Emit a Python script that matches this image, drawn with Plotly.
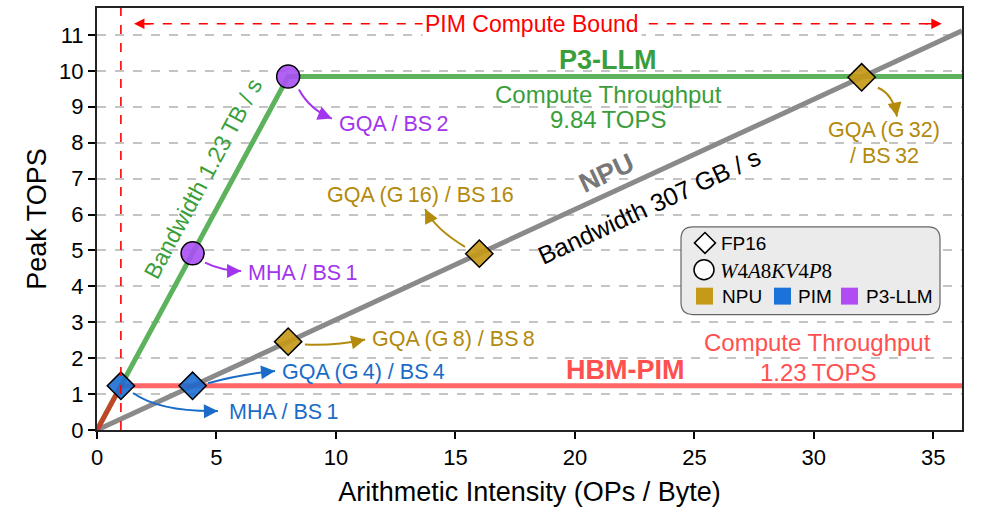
import math
import plotly.graph_objects as go

# ---------------- data ----------------
x_max = 36.2
y_max = 11.75
npu_bandwidth = 0.307      # TOPS per (OP/Byte)  (307 GB/s)
p3_bandwidth = 1.23        # 1.23 TB/s
p3_peak = 9.84             # TOPS
pim_bandwidth = 1.23
pim_peak = 1.23

pim_x = [1, 4]
pim_y = [1.23, 1.23]
npu_x = [8, 16, 32]
npu_y = [2.46, 4.91, 9.82]
p3_x = [4, 8]
p3_y = [4.92, 9.84]

x_ticks = [0, 5, 10, 15, 20, 25, 30, 35]
y_ticks = list(range(0, 12))

# ---------------- style ----------------
FONT = "Liberation Sans"
GREEN_LINE = "#5db35d"
GREEN_TXT = "#3a9e3a"
GRAY_LINE = "#8a8a8a"
RED_LINE = "rgba(255,0,0,0.6)"
RED_TXT = "#ff4f4f"
BLUE_FILL = "rgba(26,110,210,0.9)"
BLUE_TXT = "#1a6cc8"
GOLD_FILL = "rgba(196,152,20,0.9)"
GOLD_TXT = "#b38a0c"
PURPLE_FILL = "rgba(170,80,245,0.9)"
PURPLE_TXT = "#a334ee"

W, H = 996, 513
ML, MR, MT, MB = 97, 34, 6, 83
PW, PH = W - ML - MR, H - MT - MB
SX, SY = PW / x_max, PH / y_max


def pxx(p):
    return (p - ML) / PW


def pxy(p):
    return (H - MB - p) / PH


fig = go.Figure()

# rooflines
p3_ridge = p3_peak / p3_bandwidth
pim_ridge = pim_peak / pim_bandwidth
fig.add_trace(go.Scatter(x=[0, p3_ridge, x_max], y=[0, p3_peak, p3_peak], mode="lines",
                         line=dict(color=GREEN_LINE, width=5), showlegend=False, hoverinfo="skip"))
fig.add_trace(go.Scatter(x=[0, x_max], y=[0, npu_bandwidth * x_max], mode="lines",
                         line=dict(color=GRAY_LINE, width=5), showlegend=False, hoverinfo="skip"))
fig.add_trace(go.Scatter(x=[0, pim_ridge, x_max], y=[0, pim_peak, pim_peak], mode="lines",
                         line=dict(color=RED_LINE, width=5), showlegend=False, hoverinfo="skip"))

# points
fig.add_trace(go.Scatter(x=npu_x, y=npu_y, mode="markers",
                         marker=dict(symbol="diamond", size=21, color=GOLD_FILL,
                                     line=dict(color="black", width=1.5)),
                         showlegend=False, hoverinfo="skip"))
fig.add_trace(go.Scatter(x=pim_x, y=pim_y, mode="markers",
                         marker=dict(symbol="diamond", size=21, color=BLUE_FILL,
                                     line=dict(color="black", width=1.5)),
                         showlegend=False, hoverinfo="skip"))
fig.add_trace(go.Scatter(x=p3_x, y=p3_y, mode="markers",
                         marker=dict(symbol="circle", size=23, color=PURPLE_FILL,
                                     line=dict(color="black", width=1.5)),
                         showlegend=False, hoverinfo="skip"))

shapes = []
ann = []

# vertical dashed line at PIM ridge
shapes.append(dict(type="line", xref="x", yref="paper", x0=pim_ridge, x1=pim_ridge, y0=0, y1=1,
                   line=dict(color="red", width=1.6, dash="dash")))

# PIM compute bound arrow
yb = 11.31
shapes.append(dict(type="line", xref="x", yref="y", x0=2.0, x1=34.9, y0=yb, y1=yb,
                   line=dict(color="red", width=1.6, dash="dash")))
ann.append(dict(x=1.55, y=yb, xref="x", yref="y", ax=18, ay=0, text="", showarrow=True,
                arrowhead=2, arrowsize=1.3, arrowwidth=1.6, arrowcolor="red"))
ann.append(dict(x=35.35, y=yb, xref="x", yref="y", ax=-18, ay=0, text="", showarrow=True,
                arrowhead=2, arrowsize=1.3, arrowwidth=1.6, arrowcolor="red"))
ann.append(dict(x=18.2, y=yb, xref="x", yref="y", text="PIM Compute Bound", showarrow=False,
                font=dict(family=FONT, size=23, color="red"), bgcolor="white", borderpad=2))


def curved_arrow(start, ctrl, tip, color):
    shapes.append(dict(type="path", xref="x", yref="y",
                       path=f"M {start[0]},{start[1]} Q {ctrl[0]},{ctrl[1]} {tip[0]},{tip[1]}",
                       line=dict(color=color, width=2)))
    dx = (ctrl[0] - tip[0]) * SX
    dy = -(ctrl[1] - tip[1]) * SY
    n = math.hypot(dx, dy) or 1
    ann.append(dict(x=tip[0], y=tip[1], xref="x", yref="y", ax=dx / n * 9, ay=dy / n * 9,
                    text="", showarrow=True, arrowhead=2, arrowsize=1.4, arrowwidth=2,
                    arrowcolor=color))


def label(x, y, text, color, size=21.5, xanchor="left", bold=False, angle=0, family=FONT):
    if bold:
        text = f"<b>{text}</b>"
    ann.append(dict(x=x, y=y, xref="x", yref="y", text=text, showarrow=False, xanchor=xanchor,
                    yanchor="middle", textangle=angle, font=dict(family=family, size=size, color=color)))


T = "\u2009"
# PIM points
curved_arrow((1.51, 1.03), (2.64, 0.50), (5.06, 0.53), BLUE_TXT)
label(5.44, 0.50, f"MHA / BS{T}1", BLUE_TXT)
curved_arrow((4.65, 1.30), (5.98, 1.55), (7.45, 1.64), BLUE_TXT)
label(7.66, 1.61, f"GQA (G{T}4) / BS{T}4", BLUE_TXT)
# NPU points
curved_arrow((8.70, 2.38), (9.96, 2.34), (11.22, 2.52), GOLD_TXT)
label(11.42, 2.52, f"GQA (G{T}8) / BS{T}8", GOLD_TXT)
curved_arrow((15.40, 5.10), (14.15, 5.60), (13.73, 6.15), GOLD_TXT)
label(13.52, 6.55, f"GQA (G{T}16) / BS{T}16", GOLD_TXT, xanchor="center")
curved_arrow((32.68, 9.53), (33.31, 9.36), (33.48, 8.73), GOLD_TXT)
label(32.94, 8.34, f"GQA (G{T}32)", GOLD_TXT, xanchor="center")
label(32.94, 7.62, f"/ BS{T}32", GOLD_TXT, xanchor="center")
# P3-LLM points
curved_arrow((4.52, 4.66), (5.23, 4.43), (6.03, 4.43), PURPLE_TXT)
label(6.24, 4.38, f"MHA / BS{T}1", PURPLE_TXT)
curved_arrow((8.45, 9.48), (8.91, 8.92), (9.83, 8.67), PURPLE_TXT)
label(10.04, 8.51, f"GQA / BS{T}2", PURPLE_TXT)

# roofline labels
label(21.4, 10.3, "P3-LLM", GREEN_TXT, size=27, xanchor="center", bold=True)
label(21.4, 9.34, "Compute Throughput", GREEN_TXT, size=24, xanchor="center")
label(21.4, 8.65, f"9.84{T}TOPS", GREEN_TXT, size=24, xanchor="center")
ang_p3 = -math.degrees(math.atan(p3_bandwidth * SY / SX))
label(4.44, 6.98, f"Bandwidth 1.23{T}TB / s", GREEN_TXT, size=23, xanchor="center", angle=ang_p3)
ang_npu = -math.degrees(math.atan(npu_bandwidth * SY / SX))
label(21.34, 7.15, "NPU", "#777777", size=27, xanchor="center", bold=True, angle=ang_npu)
label(23.1, 6.25, f"Bandwidth 307 GB / s", "black", size=25, xanchor="center", angle=ang_npu)
label(22.1, 1.66, "HBM-PIM", RED_TXT, size=27, xanchor="center", bold=True)
label(30.17, 2.44, "Compute Throughput", RED_TXT, size=24, xanchor="center")
label(30.17, 1.61, f"1.23{T}TOPS", RED_TXT, size=24, xanchor="center")

# ---------------- custom legend box ----------------
bx0, bx1, by0, by1 = pxx(681), pxx(940), pxy(314), pxy(226)
rx, ry = 12 / PW, 12 / PH
box_path = (f"M {bx0 + rx},{by1} L {bx1 - rx},{by1} Q {bx1},{by1} {bx1},{by1 - ry} "
            f"L {bx1},{by0 + ry} Q {bx1},{by0} {bx1 - rx},{by0} L {bx0 + rx},{by0} "
            f"Q {bx0},{by0} {bx0},{by0 + ry} L {bx0},{by1 - ry} Q {bx0},{by1} {bx0 + rx},{by1} Z")
shapes.append(dict(type="path", xref="paper", yref="paper", path=box_path,
                   fillcolor="#ebebeb", line=dict(color="#666666", width=1.2), layer="above"))
# diamond symbol
cx, cy, hw = 705, 242, 10.5
dpath = (f"M {pxx(cx - hw)},{pxy(cy)} L {pxx(cx)},{pxy(cy - hw)} L {pxx(cx + hw)},{pxy(cy)} "
         f"L {pxx(cx)},{pxy(cy + hw)} Z")
shapes.append(dict(type="path", xref="paper", yref="paper", path=dpath, fillcolor="white",
                   line=dict(color="black", width=1.5), layer="above"))
# circle symbol
cx, cy, r = 704, 269, 10
shapes.append(dict(type="circle", xref="paper", yref="paper", x0=pxx(cx - r), x1=pxx(cx + r),
                   y0=pxy(cy + r), y1=pxy(cy - r), fillcolor="white",
                   line=dict(color="black", width=1.5), layer="above"))
# colour squares
legend_items = [("NPU", "#c49a18", 696, 720), ("PIM", "#1a73d9", 774, 796), ("P3-LLM", "#b14cf5", 841, 864)]
for name, col, sx0, tx in legend_items:
    shapes.append(dict(type="rect", xref="paper", yref="paper", x0=pxx(sx0), x1=pxx(sx0 + 17),
                       y0=pxy(304), y1=pxy(287), fillcolor=col, line=dict(width=0), layer="above"))
    ann.append(dict(x=pxx(tx), y=pxy(296), xref="paper", yref="paper", text=name, showarrow=False,
                    xanchor="left", yanchor="middle", font=dict(family=FONT, size=19, color="black")))
ann.append(dict(x=pxx(719), y=pxy(243), xref="paper", yref="paper", text="FP16", showarrow=False,
                xanchor="left", yanchor="middle", font=dict(family=FONT, size=19, color="black")))
ann.append(dict(x=pxx(718), y=pxy(270), xref="paper", yref="paper",
                text="<i>W</i>4<i>A</i>8<i>KV</i>4<i>P</i>8", showarrow=False,
                xanchor="left", yanchor="middle", font=dict(family="Liberation Serif", size=21, color="black")))

fig.update_layout(
    width=W, height=H,
    margin=dict(l=ML, r=MR, t=MT, b=MB),
    plot_bgcolor="white", paper_bgcolor="white",
    font=dict(family=FONT, size=22, color="black"),
    shapes=shapes, annotations=ann,
    showlegend=False,
)
fig.update_xaxes(range=[0, x_max], tickvals=x_ticks, showgrid=False, zeroline=False,
                 showline=True, linecolor="#222222", linewidth=2, mirror=True,
                 ticks="outside", ticklen=7, tickwidth=2, tickcolor="black",
                 tickfont=dict(size=22), title=dict(text="Arithmetic Intensity (OPs / Byte)",
                                                    font=dict(size=27), standoff=13))
fig.update_yaxes(range=[0, y_max], tickvals=y_ticks, showgrid=True, gridcolor="#c4c4c4",
                 griddash="dash", gridwidth=1.5, zeroline=False,
                 showline=True, linecolor="#222222", linewidth=2, mirror=True,
                 ticks="outside", ticklen=7, tickwidth=2, tickcolor="black",
                 tickfont=dict(size=22), title=dict(text="Peak TOPS", font=dict(size=27), standoff=5))

fig.write_html("out.html", config={"displayModeBar": False},
               post_script="document.body.style.margin='0px';")
